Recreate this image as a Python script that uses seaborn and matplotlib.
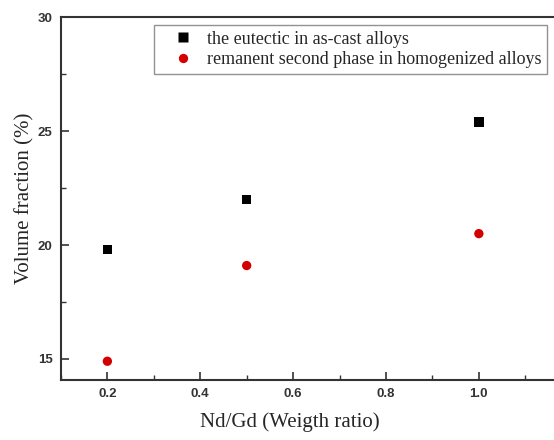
import matplotlib
matplotlib.use("Agg")
import matplotlib.pyplot as plt
import seaborn as sns
import pandas as pd
from matplotlib.ticker import MultipleLocator

ratios = [0.2, 0.5, 1.0]
eutectic = [19.8, 22.0, 25.4]
remanent = [14.9, 19.1, 20.5]
series_names = ["the eutectic in as-cast alloys",
                "remanent second phase in homogenized alloys"]

df = pd.DataFrame({
    "x": ratios * 2,
    "y": eutectic + remanent,
    "series": [series_names[0]] * 3 + [series_names[1]] * 3,
})

sns.set_theme(style="ticks")
plt.rcParams["font.family"] = ["Liberation Serif", "DejaVu Serif"]

fig = plt.figure(figsize=(5.54, 4.4), dpi=100)
ax = fig.add_axes([0.110, 0.136, 0.922, 0.825])

sns.scatterplot(data=df, x="x", y="y", hue="series", style="series",
                palette={series_names[0]: "black", series_names[1]: "#d40000"},
                markers={series_names[0]: "s", series_names[1]: "o"},
                s=45, edgecolor="none", ax=ax)

ax.set_xlim(0.1, 1.2)
ax.set_ylim(14.07, 30)
ax.xaxis.set_minor_locator(MultipleLocator(0.1))
ax.yaxis.set_minor_locator(MultipleLocator(2.5))
ax.set_xticks([0.2, 0.4, 0.6, 0.8, 1.0])
ax.set_xticklabels(["0.2", "0.4", "0.6", "0.8", "1.0"])
ax.set_yticks([15, 20, 25, 30])
ax.set_yticklabels(["15", "20", "25", "30"])
for lab in ax.get_xticklabels() + ax.get_yticklabels():
    lab.set_fontfamily("Liberation Sans")
    lab.set_fontsize(9.5)
    lab.set_fontweight("bold")
    lab.set_color("#333333")
ax.tick_params(which="major", direction="in", length=6, width=1.2, color="#333333", pad=6)
ax.tick_params(which="minor", direction="in", length=3.5, width=1.0, color="#333333")
for sp in ax.spines.values():
    sp.set_linewidth(1.5)
    sp.set_color("#333333")

ax.set_xlabel("Nd/Gd (Weigth ratio)", fontsize=15)
ax.set_ylabel("Volume fraction (%)", fontsize=15, labelpad=2)
ax.xaxis.set_label_coords(0.448, -0.088)

ax.legend(loc="upper left", bbox_to_anchor=(0.182, 0.978), fontsize=13,
          frameon=True, fancybox=False, edgecolor="#777777",
          handlelength=2.6, handletextpad=0.05, borderpad=0.3,
          labelspacing=0.2, markerscale=1.0, borderaxespad=0)

fig.savefig("out.png", dpi=100)
